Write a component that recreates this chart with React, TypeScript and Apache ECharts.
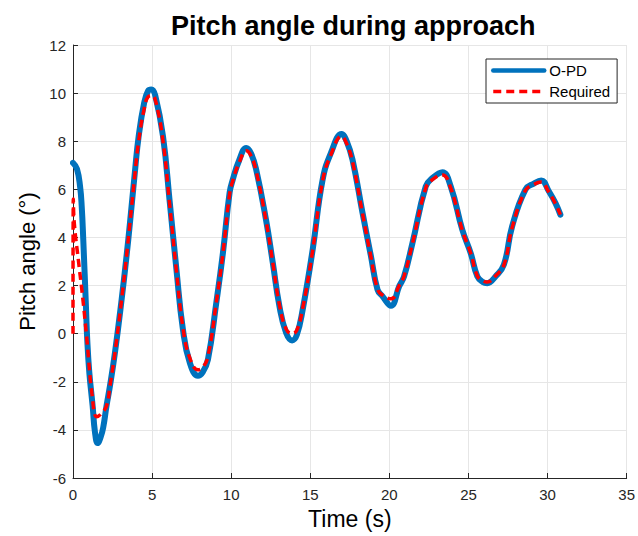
import React, { useEffect, useRef } from "react";
import * as echarts from "echarts";

const chartTitle = "Pitch angle during approach";
const xName = "Time (s)";
const yName = "Pitch angle (°)";
const seriesNames = ["O-PD", "Required"];

const timeOPD = [
  0, 0.25, 0.45, 0.55, 0.65, 0.82, 0.9, 1.03, 1.24, 1.39, 1.56, 1.75, 1.91, 2.12, 2.33, 2.65, 3.07, 3.38, 3.6, 3.91,
  4.15, 4.5, 4.75, 4.95, 5.2, 5.69, 6.12, 6.54, 6.95, 7.38, 7.9, 8.2, 8.53, 9.06, 9.48, 9.9, 10.1, 10.5, 10.95, 11.25,
  11.58, 12.2, 12.63, 13.05, 13.47, 13.85, 14.15, 14.52, 15.15, 15.78, 16.31, 16.98, 17.3, 17.67, 18.3, 18.83, 19.25,
  19.57, 20.1, 20.62, 20.93, 21.46, 22.3, 22.72, 23.35, 23.88, 24.61, 25.14, 25.56, 25.9, 26.19, 26.71, 27.24, 27.76,
  28.6, 29.13, 29.6, 30.08, 30.5, 30.81,
];
const pitchOPD = [
  7.1, 6.85, 6.1, 5.3, 3.9, 1.1, -0.25, -1.6, -3.0, -4.1, -4.55, -4.3, -3.9, -3.0, -2.2, -0.8, 1.4, 3.2, 4.6, 6.7,
  8.2, 9.6, 10.1, 10.15, 9.9, 8.2, 5.44, 2.66, 0.17, -1.2, -1.75, -1.6, -1.08, 1.29, 3.37, 5.86, 6.4, 7.2, 7.72, 7.5,
  6.82, 4.74, 2.95, 1.14, 0.04, -0.28, -0.05, 1.0, 3.49, 6.4, 7.52, 8.3, 8.0, 7.23, 5.03, 3.24, 1.83,
  1.55, 1.16, 1.97, 2.38, 3.77, 6.12, 6.47, 6.71, 6.12, 4.32, 3.35, 2.38, 2.15, 2.1, 2.38, 2.87, 4.46,
  5.99, 6.24, 6.37, 5.92, 5.43, 4.95,
];

const timeRequired = [
  0, 0.02, 0.08, 0.35, 0.63, 0.9, 1.2, 1.5, 1.75, 2.12, 2.33, 2.65, 3.07, 3.38, 3.6, 3.91,
  4.15, 4.5, 4.75, 5.0, 5.25, 5.69, 6.12, 6.54, 6.95, 7.38, 7.9, 8.2, 8.53, 9.06, 9.48, 9.9, 10.1, 10.5, 10.95, 11.25,
  11.58, 12.2, 12.63, 13.05, 13.47, 13.85, 14.15, 14.52, 15.15, 15.78, 16.31, 16.98, 17.3, 17.67, 18.3, 18.83, 19.25,
  19.57, 20.1, 20.62, 20.93, 21.46, 22.3, 22.72, 23.35, 23.88, 24.61, 25.14, 25.56, 25.9, 26.19, 26.71, 27.24, 27.76,
  28.6, 29.13, 29.6, 30.08, 30.5, 30.81,
];
const pitchRequired = [
  0, 5.6, 4.6, 3.0, 1.4, -0.4, -2.5, -3.45, -3.35, -3.0, -2.2, -0.8, 1.4, 3.2, 4.6, 6.6,
  8.0, 9.35, 9.85, 9.9, 9.6, 8.0, 5.3, 2.6, 0.25, -1.0, -1.5, -1.4, -0.95, 1.3, 3.35, 5.8, 6.35, 7.1, 7.6, 7.4,
  6.75, 4.7, 2.95, 1.2, 0.2, 0.0, 0.15, 1.05, 3.45, 6.35, 7.45, 8.2, 7.9, 7.15, 5.0, 3.2, 1.85,
  1.6, 1.45, 2.0, 2.4, 3.75, 6.05, 6.4, 6.6, 6.05, 4.3, 3.35, 2.4, 2.2, 2.15, 2.4, 2.85, 4.4,
  5.95, 6.2, 6.3, 5.88, 5.4, 4.95,
];

const xTicks = { min: 0, max: 35, interval: 5 };
const yTicks = { min: -6, max: 12, interval: 2 };

const FONT = "'Liberation Sans', Arial, Helvetica, sans-serif";

export default function App() {
  const ref = useRef<HTMLDivElement>(null);
  useEffect(() => {
    if (!ref.current) return;
    const chart = echarts.init(ref.current, undefined, { renderer: "svg" });
    const axisCommon = {
      type: "value" as const,
      nameLocation: "middle" as const,
      nameTextStyle: { fontSize: 23, color: "#000", fontFamily: FONT },
      axisLine: { show: true, onZero: false, lineStyle: { color: "#262626", width: 1 } },
      axisTick: { show: true, inside: true, length: 5, lineStyle: { color: "#262626" } },
      axisLabel: { fontSize: 15, color: "#262626", fontFamily: FONT },
      splitLine: { show: true, lineStyle: { color: "#e6e6e6", width: 1 } },
    };
    chart.setOption({
      animation: false,
      backgroundColor: "#fff",
      title: {
        text: chartTitle,
        left: 166,
        top: 7,
        textStyle: { fontSize: 27, fontWeight: "bold", color: "#000", fontFamily: FONT },
      },
      legend: {
        orient: "vertical",
        left: 486,
        top: 59,
        padding: [4, 7, 4, 5],
        itemGap: 6,
        itemWidth: 51,
        itemHeight: 14,
        borderColor: "#262626",
        borderWidth: 1,
        backgroundColor: "#fff",
        itemStyle: { opacity: 0 },
        textStyle: { fontSize: 15, color: "#000", fontFamily: FONT },
        data: [
          { name: seriesNames[0], lineStyle: { width: 4.5 } },
          { name: seriesNames[1], lineStyle: { width: 3.5 } },
        ],
      },
      grid: { left: 73, right: 10, top: 45, bottom: 58, containLabel: false },
      xAxis: {
        ...axisCommon,
        ...xTicks,
        name: xName,
        nameGap: 29,
        axisLabel: { ...axisCommon.axisLabel, margin: 9 },
      },
      yAxis: {
        ...axisCommon,
        ...yTicks,
        name: yName,
        nameGap: 34,
        nameTextStyle: { ...axisCommon.nameTextStyle, fontSize: 22 },
        axisLabel: { ...axisCommon.axisLabel, margin: 7 },
      },
      series: [
        {
          name: seriesNames[0],
          type: "line",
          data: timeOPD.map((t, i) => [t, pitchOPD[i]]),
          showSymbol: false,
          symbol: "none",
          smooth: 0.45,
          lineStyle: { color: "#0072BD", width: 6, cap: "round", join: "round" },
          itemStyle: { color: "#0072BD" },
        },
        {
          name: seriesNames[1],
          type: "line",
          data: timeRequired.map((t, i) => [t, pitchRequired[i]]),
          showSymbol: false,
          symbol: "none",
          smooth: 0.45,
          lineStyle: { color: "#FF0000", width: 3.5, type: [8, 5] },
          itemStyle: { color: "#FF0000" },
        },
      ],
    });
    return () => chart.dispose();
  }, []);
  return (
    <div
      ref={ref}
      style={{ position: "absolute", left: 0, top: 0, width: 638, height: 536 }}
    />
  );
}
